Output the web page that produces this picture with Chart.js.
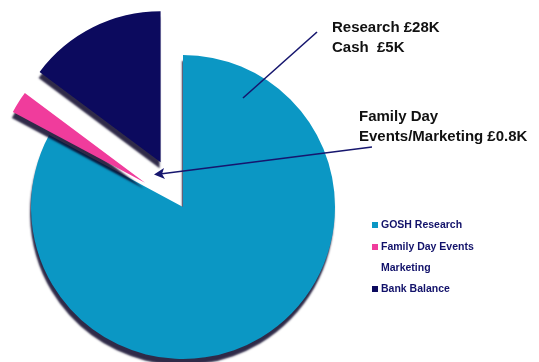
<!DOCTYPE html>
<html>
<head>
<meta charset="utf-8">
<script src="https://cdn.jsdelivr.net/npm/chart.js@4/dist/chart.umd.min.js"></script>
<style>
  html, body { margin: 0; padding: 0; background: #fff; }
  #wrap { width: 539px; height: 362px; position: relative; }
</style>
</head>
<body>
<div id="wrap"><canvas id="pie-chart"></canvas></div>
<script>
// data (in £K)
const categories = ['GOSH Research', 'Family Day Events Marketing', 'Bank Balance'];
const values = [28, 0.8, 5];
const colors = ['#0b97c4', '#f03c9c', '#0c0a5e'];
// how far each slice is pulled out, and its radius, in px
const pullOut = [0, 45, 50];
const sliceRadius = [152, 150, 151];

const navy = '#16166e';

// explode the slices: push each arc out along its middle angle
// (chart.js's own offset also shrinks thin slices, so move them here)
const explodePlugin = {
    id: 'explode',
    afterDatasetUpdate(chart, args) {
        const meta = chart.getDatasetMeta(args.index);
        meta.data.forEach((arc, i) => {
            const mid = (arc.startAngle + arc.endAngle) / 2;
            arc.x += Math.cos(mid) * pullOut[i];
            arc.y += Math.sin(mid) * pullOut[i];
            arc.outerRadius = sliceRadius[i];
        });
    }
};

const shadowPlugin = {
    id: 'sliceShadow',
    beforeDatasetsDraw(chart) {
        const ctx = chart.ctx;
        ctx.save();
        ctx.shadowColor = 'rgba(10, 5, 40, 0.85)';
        ctx.shadowBlur = 2;
        ctx.shadowOffsetX = -1;
        ctx.shadowOffsetY = 6;
    },
    afterDatasetsDraw(chart) {
        chart.ctx.restore();
    }
};

const notesPlugin = {
    id: 'notes',
    afterDraw(chart) {
        const ctx = chart.ctx;
        ctx.save();

        // leader lines
        ctx.strokeStyle = navy;
        ctx.fillStyle = navy;
        ctx.lineWidth = 1.6;
        ctx.beginPath();
        ctx.moveTo(317, 32);
        ctx.lineTo(243, 98);
        ctx.stroke();

        ctx.beginPath();
        ctx.moveTo(372, 147);
        ctx.lineTo(160, 174);
        ctx.stroke();
        ctx.beginPath();
        ctx.moveTo(154, 174.5);
        ctx.lineTo(164, 168);
        ctx.lineTo(162, 174);
        ctx.lineTo(165, 179);
        ctx.closePath();
        ctx.fill();

        // callout text
        ctx.fillStyle = '#111';
        ctx.font = 'bold 15px "Liberation Sans", Arial, sans-serif';
        ctx.textBaseline = 'middle';
        ctx.textAlign = 'left';
        ctx.fillText('Research £28K', 332, 28);
        ctx.fillText('Cash  £5K', 332, 48);
        ctx.fillText('Family Day', 359, 117);
        ctx.fillText('Events/Marketing £0.8K', 359, 137);

        // legend
        const legendRows = [
            { box: colors[0], text: 'GOSH Research', y: 225 },
            { box: colors[1], text: 'Family Day Events', y: 247 },
            { box: null, text: 'Marketing', y: 268 },
            { box: colors[2], text: 'Bank Balance', y: 289 }
        ];
        ctx.font = 'bold 10.5px "Liberation Sans", Arial, sans-serif';
        legendRows.forEach(r => {
            if (r.box) {
                ctx.fillStyle = r.box;
                ctx.fillRect(372, r.y - 3, 6, 6);
            }
            ctx.fillStyle = '#12126a';
            ctx.fillText(r.text, 381, r.y);
        });

        ctx.restore();
    }
};

const pieCanvas = document.getElementById('pie-chart');

const pieChart = new Chart(pieCanvas, {
    type: 'pie',
    data: {
        labels: categories,
        datasets: [{
            data: values,
            backgroundColor: colors,
            borderWidth: 0
        }]
    },
    options: {
        responsive: true,
        maintainAspectRatio: false,
        animation: false,
        radius: 152,
        layout: {
            padding: { left: 0, right: 173, top: 52, bottom: 0 }
        },
        plugins: {
            legend: { display: false },
            tooltip: { enabled: false }
        }
    },
    plugins: [explodePlugin, shadowPlugin, notesPlugin]
});
</script>
</body>
</html>
